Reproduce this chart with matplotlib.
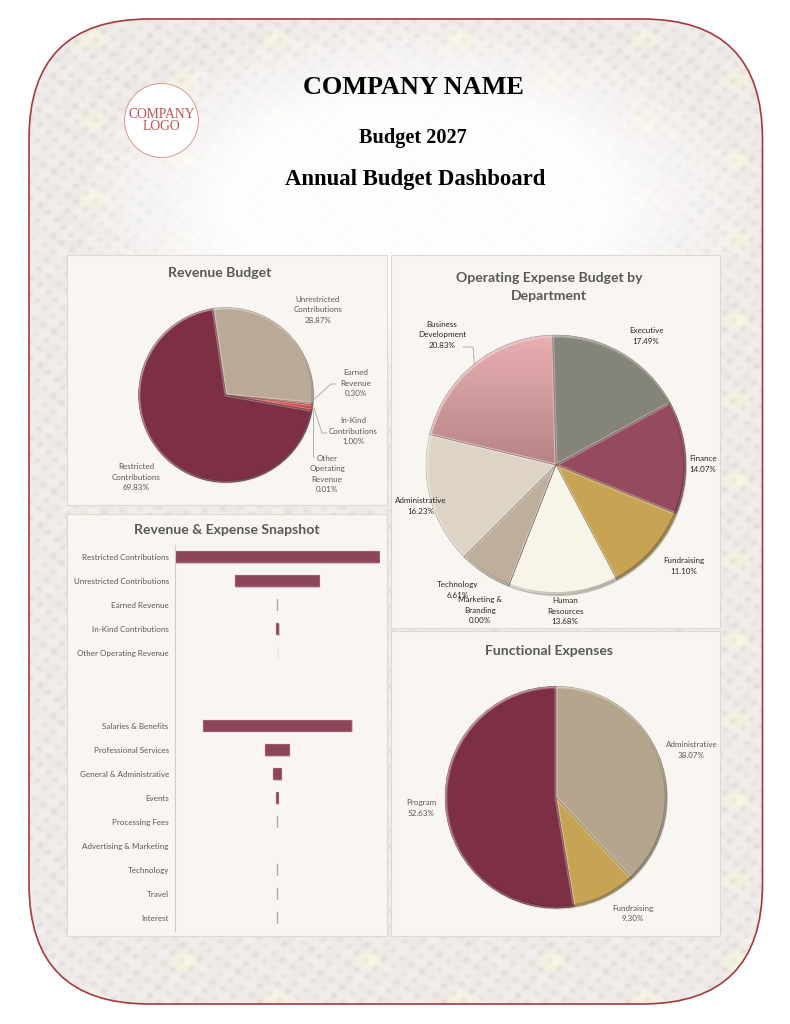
import numpy as np
import matplotlib
matplotlib.use('Agg')
import matplotlib.pyplot as plt
from matplotlib.patches import FancyBboxPatch, Rectangle, Circle, Wedge
from matplotlib.colors import to_rgb

W, H = 790, 1024

# chart values
rev_labels = ['Unrestricted\nContributions', 'Earned\nRevenue', 'In-Kind\nContributions',
              'Other\nOperating\nRevenue', 'Restricted\nContributions']
rev_values = [28.87, 0.30, 1.00, 0.01, 69.83]
rev_colors = ['#BBA997', '#E58B80', '#D9433F', '#C9A24F', '#7D3044']

dept_labels = ['Executive', 'Finance', 'Fundraising', 'Human\nResources', 'Marketing &\nBranding',
               'Technology', 'Administrative', 'Business\nDevelopment']
dept_values = [17.49, 14.07, 11.10, 13.68, 0.00, 6.61, 16.23, 20.83]
dept_colors = ['#85847C', '#954B5E', '#C6A453', '#F8F4E8', '#999999', '#BEAE9C', '#DDD4C6', '#CC9A9C']

func_labels = ['Administrative', 'Fundraising', 'Program']
func_values = [38.07, 9.30, 52.63]
func_colors = ['#B5A58C', '#C6A453', '#7D3044']

snap_labels = ['Restricted Contributions', 'Unrestricted Contributions', 'Earned Revenue',
               'In-Kind Contributions', 'Other Operating Revenue', '', '',
               'Salaries & Benefits', 'Professional Services', 'General & Administrative',
               'Events', 'Processing Fees', 'Advertising & Marketing', 'Technology', 'Travel', 'Interest']
snap_values = [69.83, 28.87, 0.30, 1.00, 0.01, 0, 0, 50.85, 8.30, 2.85, 0.90, 0.40, 0.00, 0.10, 0.40, 0.10]


def axes_px(x0, y0, x1, y1, **kw):
    return fig.add_axes([x0 / W, 1 - y1 / H, (x1 - x0) / W, (y1 - y0) / H], **kw)


def shade(c, f):
    r = np.array(to_rgb(c))
    return tuple(r * f) if f < 1 else tuple(r + (1 - r) * (f - 1))


def draw_pie(cx, cy, r, values, colors, start):
    # pie axes is a bit bigger than the pie so the rim shadow fits
    pad = 1.06
    ax = axes_px(cx - r * pad, cy - r * pad, cx + r * pad, cy + r * pad)
    ax.set_aspect('equal')
    ax.axis('off')
    ax.add_patch(Circle((0.008, -0.01), 1.0, color='#8a8074', alpha=0.35, lw=0))
    wedges, _ = ax.pie(values, colors=colors, startangle=start, counterclock=False, radius=1.0,
                       wedgeprops=dict(edgecolor='none'))
    # soft bevel inside each slice
    for w, c in zip(wedges, colors):
        rim = Wedge(w.center, w.r, w.theta1, w.theta2, fc='none', ec=shade(c, 1.3), lw=2.2, zorder=1.8)
        ax.add_patch(rim)
        rim.set_clip_path(w)
        side = Wedge(w.center, w.r, w.theta1, w.theta2, fc='none', ec='#4a4038', lw=0.5, alpha=0.3, zorder=1.9)
        ax.add_patch(side)
    # rim goes light at upper left and dark at lower right
    n = 200
    t = np.linspace(0, 1, n)
    gx, gy = np.meshgrid(t, t)
    g = (gx + (1 - gy)) / 2
    rgba = np.zeros((n, n, 4))
    rgba[..., :3] = (g < 0.5)[..., None] * 1.0
    rgba[..., 3] = np.abs(g - 0.5) * 0.8
    ring = Wedge((0, 0), 1.0, 0, 360, width=0.022, fc='none', ec='none')
    ax.add_patch(ring)
    gr = ax.imshow(rgba, extent=(-1, 1, -1, 1), origin='lower', aspect='auto', zorder=2.2)
    gr.set_clip_path(ring)
    ax.set_xlim(-pad, pad)
    ax.set_ylim(-pad, pad)
    return ax, wedges


fig = plt.figure(figsize=(W / 100, H / 100), dpi=100, facecolor='white')
bg = axes_px(0, 0, W, H)
bg.set_xlim(0, W)
bg.set_ylim(H, 0)
bg.axis('off')

# patterned backdrop, only decoration
yy, xx = np.mgrid[0:H, 0:W]
u = xx / 92.0 * 2 * np.pi
v = yy / 80.0 * 2 * np.pi
lat = np.cos(u) + np.cos(u / 2 + v) + np.cos(u / 2 - v)
fine = np.cos(5 * u + np.cos(v)) * np.cos(5 * v + u / 2)
fine2 = np.cos(2.5 * u - v) * np.cos(2.5 * v + u)
red = np.clip(fine, 0, 1) * np.clip(lat + 1.2, 0, 2) / 2
blue = np.clip(fine, 0, 1) * np.clip(-lat - 0.2, 0, 1)
spot = np.clip((lat - 2.1) / 0.9, 0, 1)
base = np.ones((H, W, 3)) * np.array([0.94, 0.925, 0.915])
base -= red[..., None] * np.array([0.02, 0.06, 0.06])
base -= blue[..., None] * np.array([0.06, 0.05, 0.04])
base += fine2[..., None] * 0.012
base += spot[..., None] * np.array([0.02, 0.03, -0.035])
fade = np.clip(1.15 - np.hypot((xx - 415) / 300.0, (yy - 205) / 165.0), 0, 1)
fade = np.clip(fade * 1.9, 0, 0.97)[..., None]
img = base * (1 - fade) + np.array([0.995, 0.995, 0.995]) * fade
border = FancyBboxPatch((29 + 120, 19 + 120), 733.5 - 240, 985 - 240, boxstyle='round,pad=120,rounding_size=120',
                        fc='none', ec='#A5393E', lw=1.2, zorder=3)
bg.add_patch(border)
im = bg.imshow(np.clip(img, 0, 1), extent=(0, W, H, 0), aspect='auto', zorder=1, interpolation='bilinear')
im.set_clip_path(border)
bg.set_xlim(0, W)
bg.set_ylim(H, 0)

# header
serif = dict(fontweight='bold', family='Liberation Serif', ha='center', va='center', zorder=5)
bg.text(413, 87, 'COMPANY NAME', fontsize=18.9, **serif)
bg.text(413, 138, 'Budget 2027', fontsize=14.6, **serif)
bg.text(415, 179, 'Annual Budget Dashboard', fontsize=16.4, **serif)
bg.add_patch(Circle((161.5, 120.5), 37, fc='white', ec='#D69A8C', lw=0.7, zorder=4))
bg.text(161.5, 121, 'COMPANY\nLOGO', fontsize=9.8, color='#C0524C', family='Liberation Serif', ha='center', va='center',
        linespacing=0.9, zorder=5)

# panels
for (x0, y0, x1, y1) in [(67, 255, 387, 505), (67, 514, 387, 936), (391, 255, 720, 628), (391, 631, 720, 936)]:
    bg.add_patch(Rectangle((x0, y0), x1 - x0, y1 - y0, fc='#F9F6F1', ec='#DDDAD5', lw=0.8, zorder=4))

title_kw = dict(family='Lato', fontweight='bold', color='#595959', ha='center', va='center', zorder=5)
bg.text(219.5, 273, 'Revenue Budget', fontsize=10.05, **title_kw)
bg.text(227, 530, 'Revenue & Expense Snapshot', fontsize=10.05, **title_kw)
bg.text(549, 287, 'Operating Expense Budget by\nDepartment', fontsize=10.05, linespacing=1.5, **title_kw)
bg.text(549, 651, 'Functional Expenses', fontsize=10.05, **title_kw)

# pies
draw_pie(226, 395, 87.5, rev_values, rev_colors, 90 + 8.5)
ax_d, w_d = draw_pie(556, 465, 130, dept_values, dept_colors, 90 + 1.5)
draw_pie(556, 797.3, 111, func_values, func_colors, 90)

# vertical gradient on the pink slice
grad = np.linspace(0, 1, 200)[..., None] * (np.array(to_rgb('#E9AFB2')) - np.array(to_rgb('#B07F80'))) + np.array(to_rgb('#B07F80'))
gim = ax_d.imshow(grad[:, None, :], extent=(-1, 0.1, -0.1, 1), origin='lower', aspect='auto', zorder=1.5)
gim.set_clip_path(w_d[-1])
ax_d.set_xlim(-1.06, 1.06)
ax_d.set_ylim(-1.06, 1.06)

# pie labels
lab_kw = dict(family='Lato', fontsize=5.75, ha='center', va='center', linespacing=1.55, zorder=6)


def pct(v):
    return f'{v:.2f}%'


fg = axes_px(0, 0, W, H)
fg.set_xlim(0, W)
fg.set_ylim(H, 0)
fg.axis('off')
fg.set_zorder(20)

rev_pos = [(318, 310), (356, 383), (353, 431), (327, 474), (136, 477)]
for lab, val, p in zip(rev_labels, rev_values, rev_pos):
    fg.text(p[0], p[1], lab + '\n' + pct(val), color='#595959', **lab_kw)
for xs, ys in [([314.5, 331, 336], [399, 384, 384]), ([314, 322, 327], [408, 433, 433]), ([313, 313], [410, 457])]:
    fg.plot(xs, ys, color='#A6A6A6', lw=0.6)

dept_pos = [(646, 336), (703, 464), (684, 566), (565, 611), (480, 610), (458, 590), (421, 506), (442, 335)]
for lab, val, p in zip(dept_labels, dept_values, dept_pos):
    fg.text(p[0], p[1], lab + '\n' + pct(val), color='#262626', **lab_kw)
fg.plot([463, 473, 474.5], [347, 347, 364], color='#A6A6A6', lw=0.6)

func_pos = [(691.5, 750), (632.5, 913.5), (421, 808)]
for lab, val, p in zip(func_labels, func_values, func_pos):
    fg.text(p[0], p[1], lab + '\n' + pct(val), color='#595959', **lab_kw)

# snapshot bars, the very small ones get no shadow and stay pale
ax = axes_px(175, 545, 380.2, 930.5)
ax.patch.set_alpha(0)
ypos = np.arange(len(snap_values))
vals = np.array(snap_values)
big = vals >= 0.8
small = (vals > 0) & ~big
ax.barh(ypos[big] + 0.03, vals[big], left=-vals[big] / 2 + 0.15, height=0.5, color='#B9AFA8', alpha=0.6, lw=0)
ax.barh(ypos[big], vals[big], left=-vals[big] / 2, height=0.5, color='#8D4558', lw=0.3, edgecolor='#D3B4BC')
ax.barh(ypos[small], vals[small], left=-vals[small] / 2, height=0.5, color='#B98A96', lw=0.3, edgecolor='#D3B4BC')
ax.set_xlim(-34.95, 34.95)
ax.set_ylim(15.5, -0.5)
ax.set_yticks(ypos)
ax.set_yticklabels(snap_labels, family='Lato', fontsize=5.75, color='#595959')
ax.tick_params(axis='y', length=0, pad=4.5)
ax.set_xticks([])
for s in ['top', 'right', 'bottom']:
    ax.spines[s].set_visible(False)
ax.spines['left'].set_color('#CFCDC9')
ax.spines['left'].set_linewidth(0.8)

fig.savefig('out.png', dpi=100)
